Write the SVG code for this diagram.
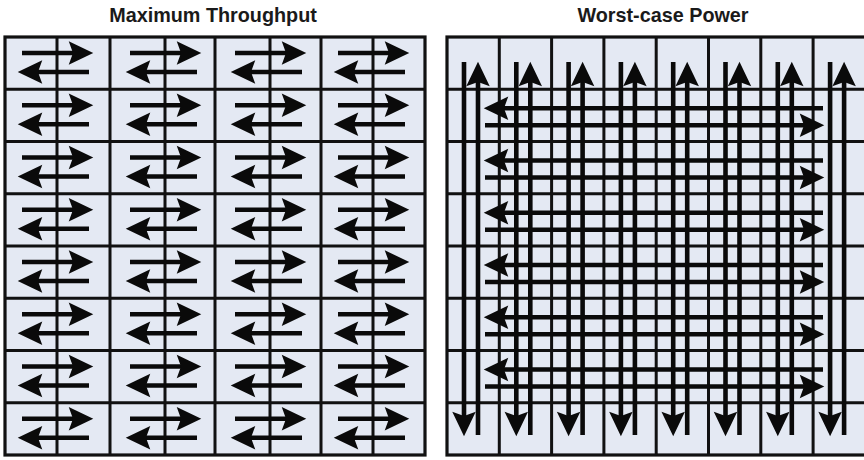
<svg xmlns="http://www.w3.org/2000/svg" width="864" height="460" viewBox="0 0 864 460">
<style>
.title{font-family:"Liberation Sans",Arial,sans-serif;font-weight:bold;font-size:19.8px;fill:#1a1a1a;text-anchor:middle}
.panel{fill:#e4e9f3;stroke:#111;stroke-width:3.2}
.grid{stroke:#111;stroke-width:3;fill:none}
.connectors path{stroke:#0a0a0a;stroke-width:4.6;fill:none;marker-end:url(#ah)}
</style>
<defs>
<marker id="ah" markerUnits="userSpaceOnUse" markerWidth="32" markerHeight="32" viewBox="-2 -13 30 26" refX="4" refY="0" orient="auto">
<path d="M0,-11 L23,0 L0,11 L4,0 Z" fill="#0a0a0a"/>
</marker>
</defs>
<rect width="864" height="460" fill="#fff"/>
<text class="title" x="213" y="22">Maximum Throughput</text>
<text class="title" x="663" y="22">Worst-case Power</text>

<g id="left-panel">
<rect class="panel" x="5" y="37" width="420" height="418"/>
<path class="grid" d="M110,37V455M215,37V455M321,37V455M57,37V455M165,37V455M270,37V455M373,37V455M5,89.25H425M5,141.5H425M5,193.75H425M5,246H425M5,298.25H425M5,350.5H425M5,402.75H425"/>
</g>

<g id="right-panel">
<rect class="panel" x="447" y="37" width="419" height="418"/>
<path class="grid" d="M499.3,37V455M551.6,37V455M603.9,37V455M656.2,37V455M708.5,37V455M760.8,37V455M813.1,37V455M447,89.25H866M447,141.5H866M447,193.75H866M447,246H866M447,298.25H866M447,350.5H866M447,402.75H866"/>
</g>

<g id="connectors" class="connectors">
<g id="left-arrows-col1">
<path d="M22,53H73"/><path d="M89,72H38"/>
<path d="M22,105.25H73"/><path d="M89,124.25H38"/>
<path d="M22,157.5H73"/><path d="M89,176.5H38"/>
<path d="M22,209.75H73"/><path d="M89,228.75H38"/>
<path d="M22,262H73"/><path d="M89,281H38"/>
<path d="M22,314.25H73"/><path d="M89,333.25H38"/>
<path d="M22,366.5H73"/><path d="M89,385.5H38"/>
<path d="M22,418.75H73"/><path d="M89,437.75H38"/>
</g>
<g id="left-arrows-col2">
<path d="M130,53H181"/><path d="M197,72H146"/>
<path d="M130,105.25H181"/><path d="M197,124.25H146"/>
<path d="M130,157.5H181"/><path d="M197,176.5H146"/>
<path d="M130,209.75H181"/><path d="M197,228.75H146"/>
<path d="M130,262H181"/><path d="M197,281H146"/>
<path d="M130,314.25H181"/><path d="M197,333.25H146"/>
<path d="M130,366.5H181"/><path d="M197,385.5H146"/>
<path d="M130,418.75H181"/><path d="M197,437.75H146"/>
</g>
<g id="left-arrows-col3">
<path d="M235,53H286"/><path d="M302,72H251"/>
<path d="M235,105.25H286"/><path d="M302,124.25H251"/>
<path d="M235,157.5H286"/><path d="M302,176.5H251"/>
<path d="M235,209.75H286"/><path d="M302,228.75H251"/>
<path d="M235,262H286"/><path d="M302,281H251"/>
<path d="M235,314.25H286"/><path d="M302,333.25H251"/>
<path d="M235,366.5H286"/><path d="M302,385.5H251"/>
<path d="M235,418.75H286"/><path d="M302,437.75H251"/>
</g>
<g id="left-arrows-col4">
<path d="M338,53H389"/><path d="M405,72H354"/>
<path d="M338,105.25H389"/><path d="M405,124.25H354"/>
<path d="M338,157.5H389"/><path d="M405,176.5H354"/>
<path d="M338,209.75H389"/><path d="M405,228.75H354"/>
<path d="M338,262H389"/><path d="M405,281H354"/>
<path d="M338,314.25H389"/><path d="M405,333.25H354"/>
<path d="M338,366.5H389"/><path d="M405,385.5H354"/>
<path d="M338,418.75H389"/><path d="M405,437.75H354"/>
</g>
<g id="right-vertical">
<path d="M464,62V416"/><path d="M478,435V82"/>
<path d="M516.3,62V416"/><path d="M530.3,435V82"/>
<path d="M568.6,62V416"/><path d="M582.6,435V82"/>
<path d="M620.9,62V416"/><path d="M634.9,435V82"/>
<path d="M673.2,62V416"/><path d="M687.2,435V82"/>
<path d="M725.5,62V416"/><path d="M739.5,435V82"/>
<path d="M777.8,62V416"/><path d="M791.8,435V82"/>
<path d="M830.1,62V416"/><path d="M844.1,435V82"/>
</g>
<g id="right-horizontal">
<path d="M823,108.25H504"/><path d="M485,125.25H804"/>
<path d="M823,160.5H504"/><path d="M485,177.5H804"/>
<path d="M823,212.75H504"/><path d="M485,229.75H804"/>
<path d="M823,265H504"/><path d="M485,282H804"/>
<path d="M823,317.25H504"/><path d="M485,334.25H804"/>
<path d="M823,369.5H504"/><path d="M485,386.5H804"/>
</g>
</g>
</svg>
